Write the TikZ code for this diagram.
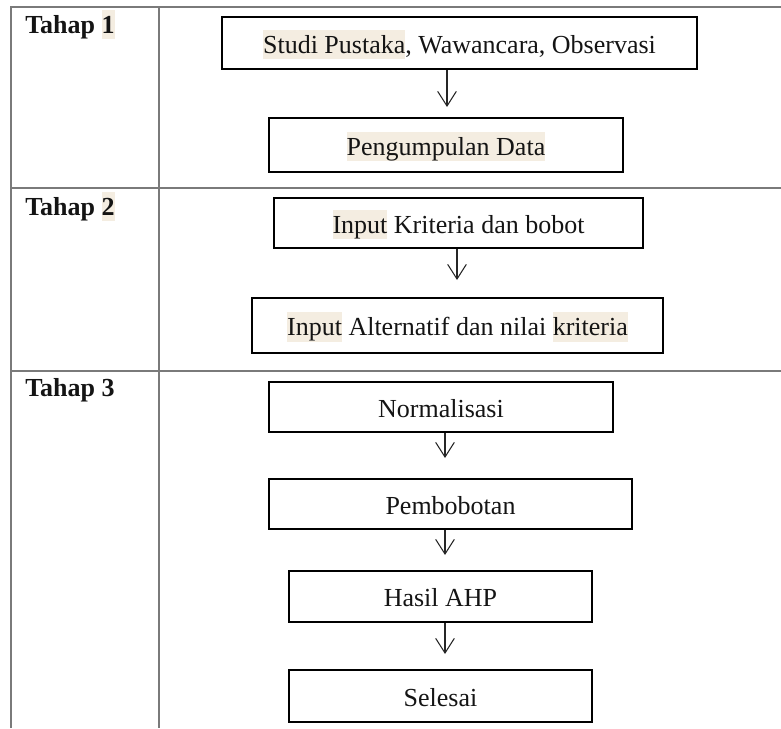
\documentclass[tikz,border=0pt]{standalone}
\usepackage{fontspec}
\setmainfont{Liberation Serif}
\usetikzlibrary{arrows.meta}
\definecolor{hlbg}{HTML}{F4EDE1}
\definecolor{rulegrey}{HTML}{7A7A7A}
\definecolor{inkdark}{HTML}{141414}
% highlighted word with a fixed-height shaded band
\newcommand\hlt[1]{{\setlength{\fboxsep}{0pt}\colorbox{hlbg}{\rule[-4.6pt]{0pt}{21.9pt}#1}}}
\tikzset{
  stepbox/.style={draw=black, line width=1.4pt, inner sep=0pt, text=inkdark,
    font=\fontsize{19.5}{23}\selectfont, text height=19pt, text depth=4pt, align=center},
  stage/.style={inner sep=0pt, text=inkdark, font=\fontsize{19.5}{23}\selectfont\bfseries},
  flowarrow/.style={draw=black!85, line width=0.8pt,
    -{Straight Barb[length=11pt, width=14pt, line width=0.8pt]}},
  tablerule/.style={draw=rulegrey, line width=1.2pt}
}
\begin{document}
\begin{tikzpicture}[x=0.75pt, y=-0.75pt]
\useasboundingbox (0,0) rectangle (781,728);

% table frame: outer left edge, column divider, row separators
\draw[tablerule] (11,728) -- (11,7) -- (781,7);
\draw[tablerule] (159,7) -- (159,728);
\draw[tablerule] (11,188) -- (781,188);
\draw[tablerule] (11,371) -- (781,371);

% stage labels
\node[stage, anchor=base west] (s1) at (25,33) {Tahap \hlt{1}};
\node[stage, anchor=base west] (s2) at (25,215) {Tahap \hlt{2}};
\node[stage, anchor=base west] (s3) at (25,396) {Tahap 3};

% stage 1
\node[stepbox, minimum width={475*0.75pt}, minimum height={52*0.75pt}] (b1) at (459.5,43)
  {\hlt{Studi Pustaka}, Wawancara, Observasi};
\node[stepbox, minimum width={354*0.75pt}, minimum height={54*0.75pt}] (b2) at (446,145)
  {\hlt{Pengumpulan Data}};

% stage 2
\node[stepbox, minimum width={369*0.75pt}, minimum height={50*0.75pt}] (b3) at (458.5,223)
  {\hlt{Input} Kriteria dan bobot};
\node[stepbox, minimum width={411*0.75pt}, minimum height={55*0.75pt}] (b4) at (457.5,325.5)
  {\hlt{Input} Alternatif dan nilai \hlt{kriteria}};

% stage 3
\node[stepbox, minimum width={344*0.75pt}, minimum height={50*0.75pt}] (b5) at (441,407)
  {Normalisasi};
\node[stepbox, minimum width={363*0.75pt}, minimum height={50*0.75pt}] (b6) at (450.5,504)
  {Pembobotan};
\node[stepbox, minimum width={303*0.75pt}, minimum height={51*0.75pt}] (b7) at (440.5,596.5)
  {Hasil AHP};
\node[stepbox, minimum width={303*0.75pt}, minimum height={52*0.75pt}] (b8) at (440.5,696)
  {Selesai};

% arrow tips stop short of the next box
\coordinate (t1) at (447,107);
\coordinate (t2) at (457,280);
\coordinate (t3) at (445,458);
\coordinate (t4) at (445,555);
\coordinate (t5) at (445,654);

\draw[flowarrow] (b1.south -| t1) -- (t1);
\draw[flowarrow] (b3.south -| t2) -- (t2);
\draw[flowarrow] (b5.south -| t3) -- (t3);
\draw[flowarrow] (b6.south -| t4) -- (t4);
\draw[flowarrow] (b7.south -| t5) -- (t5);
\end{tikzpicture}
\end{document}
